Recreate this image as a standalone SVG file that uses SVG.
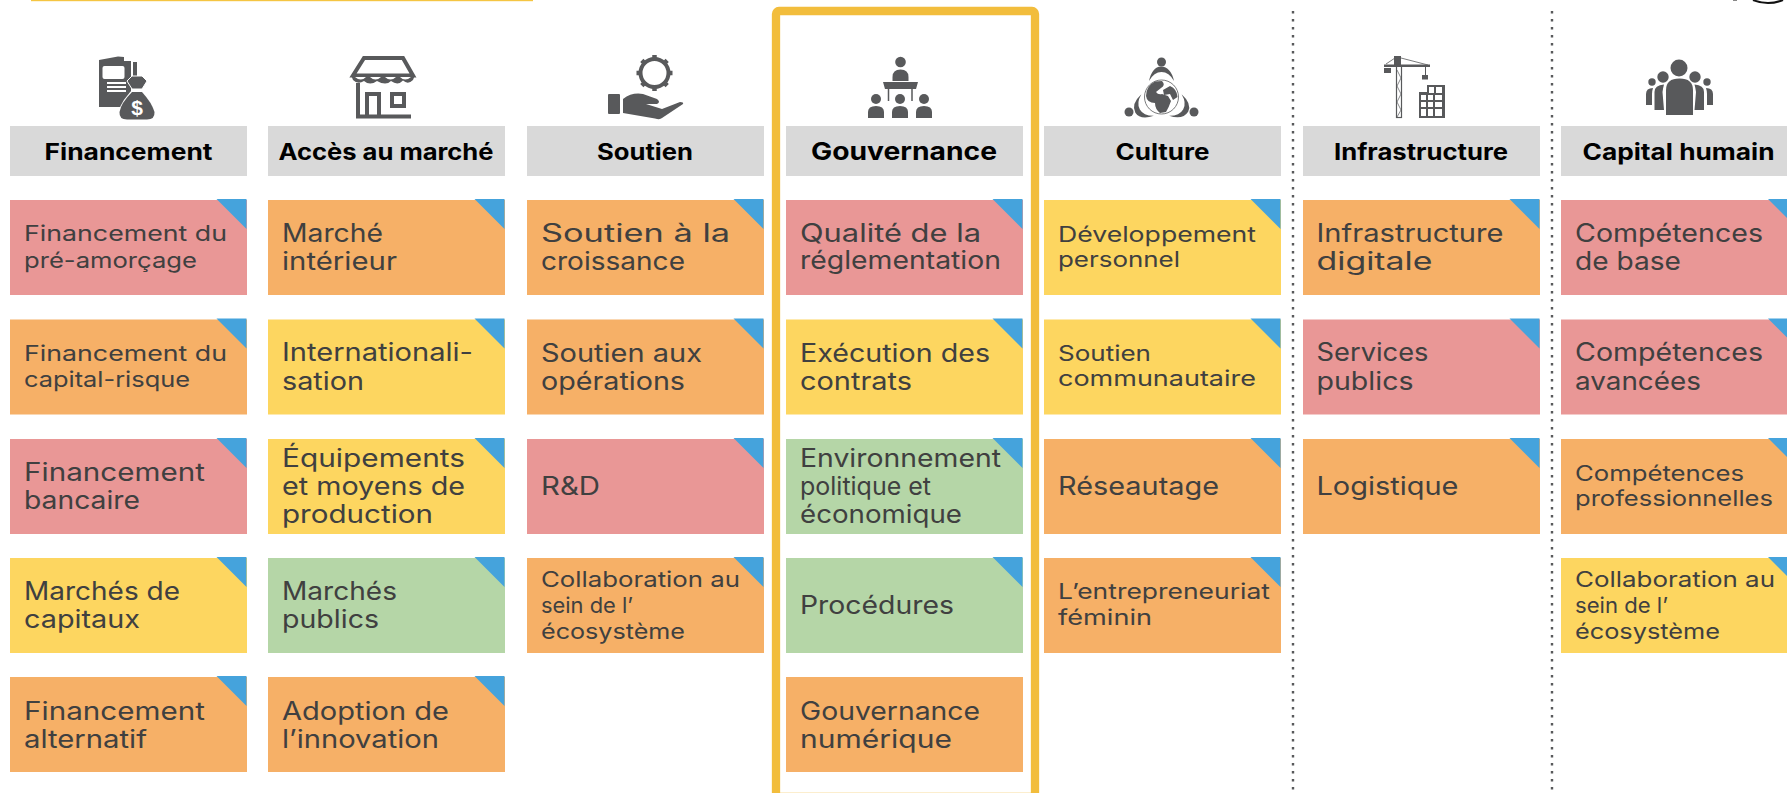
<svg xmlns="http://www.w3.org/2000/svg" width="1787" height="793" viewBox="0 0 1787 793">
<style>
text{font-family:"Inter","Noto Sans","Liberation Sans",sans-serif}
.h{fill:#d9d9d9}
.ht{font-size:22.5px;font-weight:700;fill:#000;text-anchor:middle}
.r{fill:#e99796}.o{fill:#f6b067}.y{fill:#fdd660}.g{fill:#b5d6a7}
.l{font-size:25px;fill:#404040}
.s{font-size:21.5px;fill:#404040}
.i{fill:#58595b}
.w{fill:#fff}
.st{fill:none;stroke:#58595b}
.dot{fill:none;stroke:#58595b;stroke-width:2.4;stroke-dasharray:2.4 5.6}
</style>
<defs>
<polygon id="tri" points="-30,-1 0,-1 0,29" fill="#45a3dc"/>
<path id="cres" d="M1149 81Q1152 67 1161 66.500Q1171 67 1174 81Q1169 72 1161.500 72Q1154 72 1149 81Z"/>
<path id="bod" d="M-8 12V6Q-8 0 0 0Q8 0 8 6V12Z"/>
</defs>
<rect x="31" y="0" width="502" height="1.200" fill="#f5c542"/>
<path d="M1753 0Q1768 6 1783 0" fill="none" stroke="#111" stroke-width="2"/>
<rect x="1733" y="0" width="4" height="1" fill="#888"/>

<g id="connectors">
<line class="dot" x1="1293" y1="11" x2="1293" y2="793"/>
<line class="dot" x1="1552" y1="11" x2="1552" y2="793"/>
</g>
<g id="highlight"><rect x="776" y="11" width="259" height="786" rx="3" fill="none" stroke="#f2bd3c" stroke-width="8.300"/></g>

<g id="icon-financement">
<path class="i" d="M99 60L118 56.500L124 57V61H131V107H99Z"/>
<rect class="i" x="133" y="62" width="4" height="24"/>
<rect class="w" x="102.500" y="66" width="22" height="13" rx="2"/>
<path d="M107 83H126M107 87H126M107 91H126" stroke="#fff" stroke-width="1.800"/>
<path d="M137 85Q121 100 118 113Q118 121 126 121H148Q156 121 156 113Q153 100 137 85Z" fill="#fff"/>
<path class="i" d="M132 92Q121 103 119.500 112Q119 119.500 127 119.500H147Q155 119.500 154.500 112Q152 103 142 92Z"/>
<path class="i" d="M127 81L132 76L142 76L147 81L142 89H132Z" stroke="#fff" stroke-width="1"/>
<text x="137" y="115" font-size="21" font-weight="700" fill="#fff" text-anchor="middle" style="font-family:'Liberation Sans',sans-serif">$</text>
</g>
<g id="icon-marche">
<path class="st" stroke-width="4" d="M364 58H403L413 75.500H353Z"/>
<path class="i" d="M351 75H415L413 80Q408 85 403 80.500Q398 86 391 81Q386 86 377 81Q370 86 364 81Q358 85 353 80Z" />
<path d="M355 77H366Q361 82 355 77ZM370 77H381Q375.500 82 370 77ZM385 77H396Q390.500 82 385 77ZM400 77H411Q405 82 400 77Z" fill="#fff"/>
<path class="st" stroke-width="4" d="M358 83V116.500H411M367 116V94H379V116"/>
<path class="st" stroke-width="4" d="M392 94H404V106H392Z"/>
</g>
<g id="icon-soutien">
<circle class="st" cx="654.500" cy="73" r="14" stroke-width="4"/>
<path class="st" stroke-width="4.500" d="M654.500 55V60M654.500 86V91M636.500 73H641.500M667.500 73H672.500M641.800 60.300L645.300 63.800M663.700 82.200L667.200 85.700M641.800 85.700L645.300 82.200M663.700 63.800L667.200 60.300"/>
<rect class="i" x="608" y="94" width="12" height="20" rx="1"/>
<path class="i" d="M623 99Q632 92 643 94L657 99Q661 102 657 104L646 104L662 109L680 102Q684 102 683 104L662 118Q660 120 655 118.500L623 113Z"/>
</g>
<g id="icon-gouvernance">
<circle class="i" cx="900.500" cy="62" r="5.300"/>
<path class="i" d="M892.500 81V77Q892.500 69.500 900.500 69.500Q908.500 69.500 908.500 77V81Z"/>
<path class="i" d="M883 82H918L916 89H885Z"/>
<path class="st" stroke-width="1.500" d="M888.500 89V101M912 89V101"/>
<circle class="i" cx="876" cy="99" r="5"/><circle class="i" cx="900" cy="99" r="5"/><circle class="i" cx="924" cy="99" r="5"/>
<use class="i" href="#bod" x="876" y="106"/><use class="i" href="#bod" x="900" y="106"/><use class="i" href="#bod" x="924" y="106"/>
</g>
<g id="icon-culture">
<circle class="i" cx="1161.500" cy="62" r="4.500"/><circle class="i" cx="1129" cy="112" r="4.500"/><circle class="i" cx="1194" cy="112" r="4.500"/>
<use class="i" href="#cres"/>
<use class="i" href="#cres" transform="rotate(120 1161.500 97)"/>
<use class="i" href="#cres" transform="rotate(-120 1161.500 97)"/>
<circle cx="1161.500" cy="97" r="17" fill="#fff" stroke="#58595b" stroke-width=".8"/>
<path class="i" d="M1146 96Q1146 86 1155 81.500L1162 81Q1166 85 1161 88L1156 92Q1158 95 1162 94L1168 96L1171 101Q1169 107 1166 112L1160 113Q1155 109 1155 103Q1147 103 1146 96Z"/>
<path class="i" d="M1163 90L1170 86Q1177 89 1177.500 97L1173 100L1170 94L1164 95Z"/>
</g>
<g id="icon-infrastructure">
<rect class="i" x="1394" y="56" width="7" height="9"/>
<path class="i" d="M1384 64.500H1430V67H1384Z"/>
<path class="st" stroke-width=".8" d="M1386 64L1395 58M1401 58L1428 65"/>
<rect class="i" x="1384" y="68" width="7" height="5"/>
<path class="st" stroke-width="1" d="M1425.500 67V75"/>
<rect class="i" x="1422" y="75" width="6" height="4.500"/>
<rect x="1396.500" y="66" width="5" height="51.500" fill="none" stroke="#58595b" stroke-width="1.200"/>
<path class="st" stroke-width=".7" d="M1397 70L1401 78L1397 86L1401 94L1397 102L1401 110L1397 117"/>
<path class="i" d="M1419 118V92H1427V85H1445V118Z"/>
<path fill="#fff" d="M1421 95h5v5h-5zM1428 95h5v5h-5zM1435 95h7v5h-7zM1421 102h5v5h-5zM1428 102h5v5h-5zM1435 102h7v5h-7zM1421 109h5v7h-5zM1428 109h5v7h-5zM1435 109h7v7h-7zM1429 87h5v6h-5zM1436 87h6v6h-6z"/>
</g>
<g id="icon-capital">
<circle class="i" cx="1679" cy="68" r="8.500"/><circle class="i" cx="1663" cy="77" r="5.700"/><circle class="i" cx="1695" cy="77" r="5.700"/><circle class="i" cx="1652" cy="82" r="3.700"/><circle class="i" cx="1707" cy="82" r="3.700"/>
<path class="i" d="M1666 115V90Q1666 78.500 1679.500 78.500Q1693 78.500 1693 90V115Z"/>
<path class="i" d="M1654.500 110V92Q1654.500 85 1664 84.500Q1663 88 1662.500 92L1664 110Z"/>
<path class="i" d="M1704 110V92Q1704 85 1694.500 84.500Q1695.500 88 1696 92L1694.500 110Z"/>
<path class="i" d="M1646 105V94Q1646 88 1653 88Q1652 91 1652 94V105Z"/>
<path class="i" d="M1713 105V94Q1713 88 1706 88Q1707 91 1707 94V105Z"/>
</g>

<g id="h1"><rect class="h" x="10" y="126" width="237" height="50"/><text class="ht" x="128.500" y="160" textLength="168" lengthAdjust="spacingAndGlyphs">Financement</text></g>
<g id="h2"><rect class="h" x="268" y="126" width="237" height="50"/><text class="ht" x="386" y="160" textLength="215" lengthAdjust="spacingAndGlyphs">Accès au marché</text></g>
<g id="h3"><rect class="h" x="527" y="126" width="237" height="50"/><text class="ht" x="645" y="160" textLength="96" lengthAdjust="spacingAndGlyphs">Soutien</text></g>
<g id="h4"><rect class="h" x="786" y="126" width="237" height="50"/><text class="ht" x="904" y="160" style="font-size:24.500px" textLength="186" lengthAdjust="spacingAndGlyphs">Gouvernance</text></g>
<g id="h5"><rect class="h" x="1044" y="126" width="237" height="50"/><text class="ht" x="1162.500" y="160" textLength="94" lengthAdjust="spacingAndGlyphs">Culture</text></g>
<g id="h6"><rect class="h" x="1303" y="126" width="237" height="50"/><text class="ht" x="1421" y="160" textLength="174" lengthAdjust="spacingAndGlyphs">Infrastructure</text></g>
<g id="h7"><rect class="h" x="1561" y="126" width="237" height="50"/><text class="ht" x="1678.500" y="160" textLength="192" lengthAdjust="spacingAndGlyphs">Capital humain</text></g>

<g id="c1-1"><rect class="r" x="10" y="200" width="237" height="95"/><use href="#tri" x="246.500" y="200"/><text class="s" x="24" y="241" textLength="203" lengthAdjust="spacingAndGlyphs">Financement du</text><text class="s" x="24" y="268" textLength="173" lengthAdjust="spacingAndGlyphs">pré-amorçage</text></g>
<g id="c1-2"><rect class="o" x="10" y="319.500" width="237" height="95"/><use href="#tri" x="246.500" y="319.500"/><text class="s" x="24" y="360.500" textLength="203" lengthAdjust="spacingAndGlyphs">Financement du</text><text class="s" x="24" y="387" textLength="166" lengthAdjust="spacingAndGlyphs">capital-risque</text></g>
<g id="c1-3"><rect class="r" x="10" y="439" width="237" height="95"/><use href="#tri" x="246.500" y="439"/><text class="l" x="24" y="481" textLength="181" lengthAdjust="spacingAndGlyphs">Financement</text><text class="l" x="24" y="508.500" textLength="116" lengthAdjust="spacingAndGlyphs">bancaire</text></g>
<g id="c1-4"><rect class="y" x="10" y="558" width="237" height="95"/><use href="#tri" x="246.500" y="558"/><text class="l" x="24" y="600" textLength="156" lengthAdjust="spacingAndGlyphs">Marchés de</text><text class="l" x="24" y="627.500" textLength="116" lengthAdjust="spacingAndGlyphs">capitaux</text></g>
<g id="c1-5"><rect class="o" x="10" y="677" width="237" height="95"/><use href="#tri" x="246.500" y="677"/><text class="l" x="24" y="720" textLength="181" lengthAdjust="spacingAndGlyphs">Financement</text><text class="l" x="24" y="747.500" textLength="123" lengthAdjust="spacingAndGlyphs">alternatif</text></g>

<g id="c2-1"><rect class="o" x="268" y="200" width="237" height="95"/><use href="#tri" x="504.500" y="200"/><text class="l" x="282" y="241.500" textLength="101" lengthAdjust="spacingAndGlyphs">Marché</text><text class="l" x="282" y="270" textLength="115" lengthAdjust="spacingAndGlyphs">intérieur</text></g>
<g id="c2-2"><rect class="y" x="268" y="319.500" width="237" height="95"/><use href="#tri" x="504.500" y="319.500"/><text class="l" x="282" y="361" textLength="191" lengthAdjust="spacingAndGlyphs">Internationali-</text><text class="l" x="282" y="389.500" textLength="82" lengthAdjust="spacingAndGlyphs">sation</text></g>
<g id="c2-3"><rect class="y" x="268" y="439" width="237" height="95"/><use href="#tri" x="504.500" y="439"/><text class="l" x="282" y="466.500" textLength="183" lengthAdjust="spacingAndGlyphs">Équipements</text><text class="l" x="282" y="494.500" textLength="183" lengthAdjust="spacingAndGlyphs">et moyens de</text><text class="l" x="282" y="522.500" textLength="151" lengthAdjust="spacingAndGlyphs">production</text></g>
<g id="c2-4"><rect class="g" x="268" y="558" width="237" height="95"/><use href="#tri" x="504.500" y="558"/><text class="l" x="282" y="600" textLength="115" lengthAdjust="spacingAndGlyphs">Marchés</text><text class="l" x="282" y="627.500" textLength="97" lengthAdjust="spacingAndGlyphs">publics</text></g>
<g id="c2-5"><rect class="o" x="268" y="677" width="237" height="95"/><use href="#tri" x="504.500" y="677"/><text class="l" x="282" y="720" textLength="167" lengthAdjust="spacingAndGlyphs">Adoption de</text><text class="l" x="282" y="747.500" textLength="157" lengthAdjust="spacingAndGlyphs">l’innovation</text></g>

<g id="c3-1"><rect class="o" x="527" y="200" width="237" height="95"/><use href="#tri" x="763.500" y="200"/><text class="l" x="541" y="241.500" textLength="189" lengthAdjust="spacingAndGlyphs">Soutien à la</text><text class="l" x="541" y="270" textLength="144" lengthAdjust="spacingAndGlyphs">croissance</text></g>
<g id="c3-2"><rect class="o" x="527" y="319.500" width="237" height="95"/><use href="#tri" x="763.500" y="319.500"/><text class="l" x="541" y="361.500" textLength="161" lengthAdjust="spacingAndGlyphs">Soutien aux</text><text class="l" x="541" y="389.500" textLength="144" lengthAdjust="spacingAndGlyphs">opérations</text></g>
<g id="c3-3"><rect class="r" x="527" y="439" width="237" height="95"/><use href="#tri" x="763.500" y="439"/><text class="l" x="541" y="495" textLength="59" lengthAdjust="spacingAndGlyphs">R&amp;D</text></g>
<g id="c3-4"><rect class="o" x="527" y="558" width="237" height="95"/><use href="#tri" x="763.500" y="558"/><text class="s" x="541" y="587" textLength="199" lengthAdjust="spacingAndGlyphs">Collaboration au</text><text class="s" x="541" y="613" textLength="92" lengthAdjust="spacingAndGlyphs">sein de l’</text><text class="s" x="541" y="639" textLength="144" lengthAdjust="spacingAndGlyphs">écosystème</text></g>

<g id="c4-1"><rect class="r" x="786" y="200" width="237" height="95"/><use href="#tri" x="1022.500" y="200"/><text class="l" x="800" y="241.500" textLength="181" lengthAdjust="spacingAndGlyphs">Qualité de la</text><text class="l" x="800" y="269" textLength="201" lengthAdjust="spacingAndGlyphs">réglementation</text></g>
<g id="c4-2"><rect class="y" x="786" y="319.500" width="237" height="95"/><use href="#tri" x="1022.500" y="319.500"/><text class="l" x="800" y="361.500" textLength="190" lengthAdjust="spacingAndGlyphs">Exécution des</text><text class="l" x="800" y="389.500" textLength="112" lengthAdjust="spacingAndGlyphs">contrats</text></g>
<g id="c4-3"><rect class="g" x="786" y="439" width="237" height="95"/><use href="#tri" x="1022.500" y="439"/><text class="l" x="800" y="466.500" textLength="201" lengthAdjust="spacingAndGlyphs">Environnement</text><text class="l" x="800" y="495" textLength="131" lengthAdjust="spacingAndGlyphs">politique et</text><text class="l" x="800" y="522.500" textLength="162" lengthAdjust="spacingAndGlyphs">économique</text></g>
<g id="c4-4"><rect class="g" x="786" y="558" width="237" height="95"/><use href="#tri" x="1022.500" y="558"/><text class="l" x="800" y="614" textLength="154" lengthAdjust="spacingAndGlyphs">Procédures</text></g>
<g id="c4-5"><rect class="o" x="786" y="677" width="237" height="95"/><text class="l" x="800" y="720" textLength="180" lengthAdjust="spacingAndGlyphs">Gouvernance</text><text class="l" x="800" y="747.500" textLength="152" lengthAdjust="spacingAndGlyphs">numérique</text></g>

<g id="c5-1"><rect class="y" x="1044" y="200" width="237" height="95"/><use href="#tri" x="1280.500" y="200"/><text class="s" x="1058" y="241.500" textLength="198" lengthAdjust="spacingAndGlyphs">Développement</text><text class="s" x="1058" y="267" textLength="122" lengthAdjust="spacingAndGlyphs">personnel</text></g>
<g id="c5-2"><rect class="y" x="1044" y="319.500" width="237" height="95"/><use href="#tri" x="1280.500" y="319.500"/><text class="s" x="1058" y="360.500" textLength="93" lengthAdjust="spacingAndGlyphs">Soutien</text><text class="s" x="1058" y="386" textLength="198" lengthAdjust="spacingAndGlyphs">communautaire</text></g>
<g id="c5-3"><rect class="o" x="1044" y="439" width="237" height="95"/><use href="#tri" x="1280.500" y="439"/><text class="l" x="1058" y="495" textLength="161" lengthAdjust="spacingAndGlyphs">Réseautage</text></g>
<g id="c5-4"><rect class="o" x="1044" y="558" width="237" height="95"/><use href="#tri" x="1280.500" y="558"/><text class="s" x="1058" y="599" textLength="212" lengthAdjust="spacingAndGlyphs">L’entrepreneuriat</text><text class="s" x="1058" y="625" textLength="94" lengthAdjust="spacingAndGlyphs">féminin</text></g>

<g id="c6-1"><rect class="o" x="1303" y="200" width="237" height="95"/><use href="#tri" x="1539.500" y="200"/><text class="l" x="1316.500" y="241.500" textLength="187" lengthAdjust="spacingAndGlyphs">Infrastructure</text><text class="l" x="1316.500" y="270" textLength="116" lengthAdjust="spacingAndGlyphs">digitale</text></g>
<g id="c6-2"><rect class="r" x="1303" y="319.500" width="237" height="95"/><use href="#tri" x="1539.500" y="319.500"/><text class="l" x="1316.500" y="361" textLength="112" lengthAdjust="spacingAndGlyphs">Services</text><text class="l" x="1316.500" y="389.500" textLength="97" lengthAdjust="spacingAndGlyphs">publics</text></g>
<g id="c6-3"><rect class="o" x="1303" y="439" width="237" height="95"/><use href="#tri" x="1539.500" y="439"/><text class="l" x="1316.500" y="495" textLength="142" lengthAdjust="spacingAndGlyphs">Logistique</text></g>

<g id="c7-1"><rect class="r" x="1561" y="200" width="237" height="95"/><use href="#tri" x="1798" y="200"/><text class="l" x="1575" y="241.500" textLength="188" lengthAdjust="spacingAndGlyphs">Compétences</text><text class="l" x="1575" y="270" textLength="106" lengthAdjust="spacingAndGlyphs">de base</text></g>
<g id="c7-2"><rect class="r" x="1561" y="319.500" width="237" height="95"/><use href="#tri" x="1798" y="319.500"/><text class="l" x="1575" y="361" textLength="188" lengthAdjust="spacingAndGlyphs">Compétences</text><text class="l" x="1575" y="389.500" textLength="126" lengthAdjust="spacingAndGlyphs">avancées</text></g>
<g id="c7-3"><rect class="o" x="1561" y="439" width="237" height="95"/><use href="#tri" x="1798" y="439"/><text class="s" x="1575" y="480.500" textLength="169" lengthAdjust="spacingAndGlyphs">Compétences</text><text class="s" x="1575" y="506" textLength="198" lengthAdjust="spacingAndGlyphs">professionnelles</text></g>
<g id="c7-4"><rect class="y" x="1561" y="558" width="237" height="95"/><use href="#tri" x="1798" y="558"/><text class="s" x="1575" y="587" textLength="200" lengthAdjust="spacingAndGlyphs">Collaboration au</text><text class="s" x="1575" y="613" textLength="93" lengthAdjust="spacingAndGlyphs">sein de l’</text><text class="s" x="1575" y="639" textLength="145" lengthAdjust="spacingAndGlyphs">écosystème</text></g>
</svg>
